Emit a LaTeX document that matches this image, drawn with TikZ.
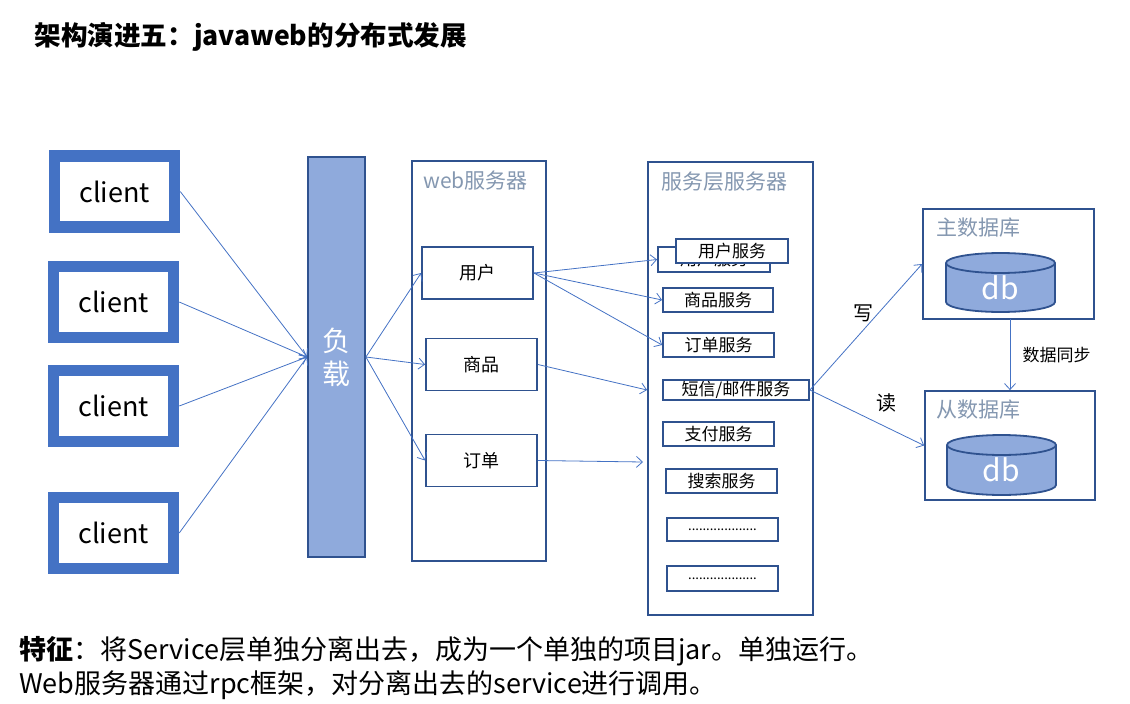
\documentclass[tikz,border=0pt]{standalone}
\usepackage{fontspec}
\setmainfont{Noto Sans CJK SC}
\usetikzlibrary{arrows.meta}
\definecolor{clientblue}{HTML}{4472C4}
\definecolor{lbfill}{HTML}{8FAADC}
\definecolor{edge}{HTML}{2F528F}
\definecolor{labelgray}{HTML}{8497B0}
\tikzset{
  client/.style={draw=clientblue, line width=11.5pt, fill=white, inner sep=0pt,
    minimum width=120pt, minimum height=71pt, font=\fontsize{27}{30}\selectfont},
  frame/.style={draw=edge, line width=1.8pt, inner sep=0pt},
  webbox/.style={frame, fill=white, minimum width=111pt, minimum height=52pt,
    font=\fontsize{18}{20}\selectfont},
  svcbox/.style={frame, fill=white, minimum width=111pt, minimum height=24pt,
    font=\fontsize{17}{19}\selectfont},
  grouplabel/.style={anchor=west, text=labelgray, font=\fontsize{21}{24}\selectfont},
  cyl/.style={draw=edge, line width=1.8pt, fill=lbfill},
  dbtext/.style={text=white, font=\fontsize{30}{32}\selectfont},
  link/.style={draw=clientblue, line width=0.8pt, -{Straight Barb[length=6pt,width=11pt]}},
  tag/.style={font=\fontsize{20}{22}\selectfont}
}
\begin{document}
\begin{tikzpicture}[x=1pt,y=-1pt]
\useasboundingbox (0,0) rectangle (1130,704);

% title
\node[anchor=west, font=\bfseries\fontsize{26.6}{30}\selectfont] (title) at (31,37) {架构演进五：javaweb的分布式发展};

% clients and load balancer
\node[client] (c1) at (114.5,191.5) {client};
\node[client] (c2) at (113.5,302) {client};
\node[client] (c3) at (113.5,406) {client};
\node[client] (c4) at (113.5,533) {client};
\node[frame, fill=lbfill, minimum width=57pt, minimum height=400pt, text=white,
  align=center, font=\fontsize{28}{33}\selectfont] (lb) at (336.5,357) {负\\载};

% web servers
\node[frame, minimum width=134pt, minimum height=400pt] (web) at (479,361) {};
\node[grouplabel] (weblabel) at (420,181) {web服务器};
\node[webbox] (wu) at (477.5,273) {用户};
\node[webbox] (wg) at (481.5,364.5) {商品};
\node[webbox] (wo) at (481.5,460.5) {订单};

% service layer
\node[frame, minimum width=165pt, minimum height=453pt] (svc) at (730.5,388.5) {};
\node[grouplabel] (svclabel) at (658,182) {服务层服务器};
\node[svcbox, minimum width=112pt, minimum height=25pt] (usb) at (714,259.5) {用户服务};
\node[svcbox, minimum width=112pt] (usf) at (732,251) {用户服务};
\node[svcbox, minimum width=110pt] (sg) at (718,300) {商品服务};
\node[svcbox] (so) at (718.5,345) {订单服务};
\node[svcbox, minimum width=146pt, minimum height=20pt] (sms) at (736,390) {短信/邮件服务};
\node[svcbox] (pay) at (718.5,434) {支付服务};
\node[svcbox] (search) at (721.5,481) {搜索服务};
\node[svcbox, minimum height=23pt] (more1) at (722.5,529.5) {\fontsize{13}{14}\selectfont ...................};
\node[svcbox, minimum height=25pt] (more2) at (722.5,578.5) {\fontsize{13}{14}\selectfont ...................};

% databases
\node[frame, minimum width=171pt, minimum height=110pt] (mdb) at (1008.5,264) {};
\node[grouplabel] (mlabel) at (933,228) {主数据库};
\draw[cyl] (946,263) -- (946,302) arc[start angle=180, end angle=360, x radius=54.5pt, y radius=10pt]
  -- (1055,263) arc[start angle=0, end angle=180, x radius=54.5pt, y radius=10pt] -- cycle;
\draw[cyl, fill=none] (946,263) arc[start angle=180, end angle=360, x radius=54.5pt, y radius=10pt];
\node[dbtext] (mdbtext) at (1000.5,288) {db};

\node[frame, minimum width=170pt, minimum height=109pt] (sdb) at (1010,445.5) {};
\node[grouplabel] (slabel) at (933,410) {从数据库};
\draw[cyl] (947,445) -- (947,485) arc[start angle=180, end angle=360, x radius=54.5pt, y radius=10pt]
  -- (1056,445) arc[start angle=0, end angle=180, x radius=54.5pt, y radius=10pt] -- cycle;
\draw[cyl, fill=none] (947,445) arc[start angle=180, end angle=360, x radius=54.5pt, y radius=10pt];
\node[dbtext] (sdbtext) at (1001.5,470) {db};

% connectors
\foreach \c in {c1,c2,c3,c4}
  \draw[link] (\c.east) -- (lb.west);
\foreach \w in {wu,wg,wo}
  \draw[link] (lb.east) -- (\w.west);
\draw[link] (wu.east) -- (usb.west);
\draw[link] (wu.east) -- (sg.west);
\draw[link] (wu.east) -- (so.west);
\draw[link] (wg.east) -- (svc.west |- sms);
\coordinate (oend) at (643,462);
\draw[link] (wo.east) -- (oend);
\draw[link] (sms.east) -- (mdb.west);
\draw[link] (sms.east) -- (sdb.west);
\draw[link] (1010,319) coordinate (syncstart) -- (syncstart |- sdb.north);
\node[tag] (write) at (863,313) {写};
\node[tag] (read) at (886,403) {读};
\node[anchor=west, font=\fontsize{17}{19}\selectfont] (sync) at (1019,355) {数据同步};

% note
\node[anchor=north west, align=left, inner sep=0pt, font=\fontsize{27}{34}\selectfont] (note) at (19,636)
  {\textbf{特征}：将Service层单独分离出去，成为一个单独的项目jar。单独运行。\\
   Web服务器通过rpc框架，对分离出去的service进行调用。};
\end{tikzpicture}
\end{document}
